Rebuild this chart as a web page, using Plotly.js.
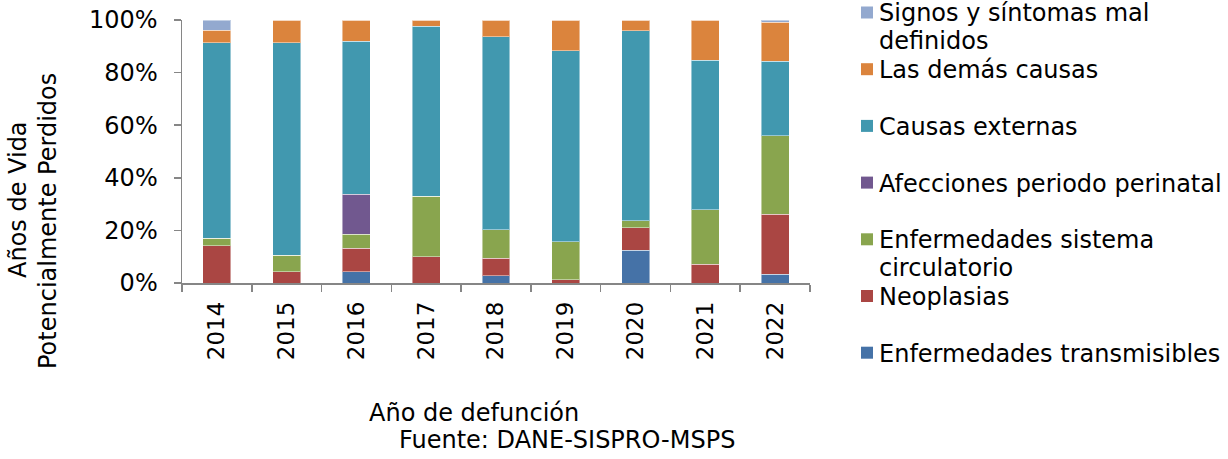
<!DOCTYPE html>
<html>
<head>
<meta charset="utf-8">
<script src="https://cdn.plot.ly/plotly-3.0.1.min.js"></script>
<style>html,body{margin:0;padding:0;background:#fff;}#chart{width:1228px;height:459px;}</style>
</head>
<body>
<div id="chart"></div>
<script>
// ---- data (percent of total AVPP per year) ----
const years = ['2014','2015','2016','2017','2018','2019','2020','2021','2022'];
const seriesNames = ['Enfermedades transmisibles','Neoplasias','Enfermedades sistema circulatorio','Afecciones periodo perinatal','Causas externas','Las demás causas','Signos y síntomas mal definidos'];
const legendLines = [['Enfermedades transmisibles'],['Neoplasias'],['Enfermedades sistema','circulatorio'],['Afecciones periodo perinatal'],['Causas externas'],['Las demás causas'],['Signos y síntomas mal','definidos']];
const transmisibles = [0.0, 0.0, 4.2, 0.0, 2.7, 0.0, 12.5, 0.0, 3.3];
const neoplasias    = [14.2, 4.2, 9.0, 9.9, 6.8, 1.3, 8.6, 7.1, 22.9];
const circulatorio  = [2.9, 6.3, 5.3, 23.1, 10.8, 14.4, 2.5, 20.8, 29.8];
const perinatal     = [0.0, 0.0, 15.2, 0.0, 0.0, 0.0, 0.0, 0.0, 0.0];
const externas      = [74.3, 80.9, 58.2, 64.7, 73.3, 72.6, 72.3, 56.8, 28.3];
const demas         = [4.7, 8.6, 8.1, 2.3, 6.4, 11.7, 4.1, 15.3, 14.9];
const signos        = [3.9, 0.0, 0.0, 0.0, 0.0, 0.0, 0.0, 0.0, 0.8];
const yTickVals = [0, 20, 40, 60, 80, 100];
const yTickText = ['0%', '20%', '40%', '60%', '80%', '100%'];
const colors = ['#4572A7','#AA4643','#89A54E','#71588F','#4198AF','#DB843D','#93A9CF'];
const allSeries = [transmisibles, neoplasias, circulatorio, perinatal, externas, demas, signos];

const FONT = 'DejaVu Sans, Verdana, sans-serif';
const FS = 24;

const traces = allSeries.map((vals, i) => ({
  type: 'bar',
  name: seriesNames[i],
  x: years,
  y: vals,
  marker: {color: colors[i], line: {color: 'rgba(255,255,255,0.45)', width: 1}},
  showlegend: false,
  hovertemplate: '%{x}: %{y:.1f}%<extra>' + seriesNames[i] + '</extra>'
}));

// plot area geometry (pixels) used to place the hand-built legend and titles
const L = 182, T = 20, W = 628, H = 263;
const px = x => (x - L) / W;
const py = y => (T + H - y) / H;

const annotations = [];
const shapes = [];
const slot0 = 12.5, pitch = 56.7, lineGap = 28;
function txt(x, y, text, extra) {
  annotations.push(Object.assign({
    xref: 'paper', yref: 'paper', x: px(x), y: py(y),
    xanchor: 'center', yanchor: 'middle', showarrow: false,
    text: text, font: {family: FONT, size: FS, color: '#000'}
  }, extra || {}));
}
for (let k = 0; k < seriesNames.length; k++) {
  const i = seriesNames.length - 1 - k; // reversed order: last series on top
  const cy = slot0 + pitch * k;
  legendLines[i].forEach((line, j) => {
    txt(877, cy + 1 + j * lineGap, line, {xanchor: 'left', align: 'left'});
  });
  shapes.push({
    type: 'rect', xref: 'paper', yref: 'paper',
    x0: px(861), x1: px(873), y0: py(cy - 6), y1: py(cy + 6),
    fillcolor: colors[i], line: {width: 0}
  });
}
txt(18, 200, 'Años de Vida', {textangle: -90});
txt(48, 221, 'Potencialmente Perdidos', {textangle: -90});
txt(474, 413, 'Año de defunción');
txt(567, 440, 'Fuente: DANE-SISPRO-MSPS');

const layout = {
  width: 1228, height: 459,
  margin: {l: L, r: 1228 - L - W, t: T, b: 459 - T - H, pad: 0},
  paper_bgcolor: '#fff', plot_bgcolor: '#fff',
  barmode: 'stack', bargap: 0.6,
  font: {family: FONT, size: FS, color: '#000'},
  showlegend: false,
  xaxis: {
    type: 'category', tickangle: -90, tickson: 'boundaries',
    ticks: 'outside', ticklen: 7, tickcolor: '#868686', tickwidth: 1.5,
    showline: true, linecolor: '#868686', linewidth: 1.5,
    showgrid: false, zeroline: false, ticklabelstandoff: 8,
    tickfont: {family: FONT, size: 23, color: '#000'}
  },
  yaxis: {
    range: [0, 100], tickvals: yTickVals, ticktext: yTickText,
    ticks: 'outside', ticklen: 7, tickcolor: '#868686', tickwidth: 1.5,
    showline: true, linecolor: '#868686', linewidth: 1.5,
    showgrid: false, zeroline: false, ticklabelstandoff: 11,
    tickfont: {family: FONT, size: FS, color: '#000'}
  },
  annotations: annotations,
  shapes: shapes
};

Plotly.newPlot('chart', traces, layout, {displayModeBar: false, staticPlot: true});
</script>
</body>
</html>
